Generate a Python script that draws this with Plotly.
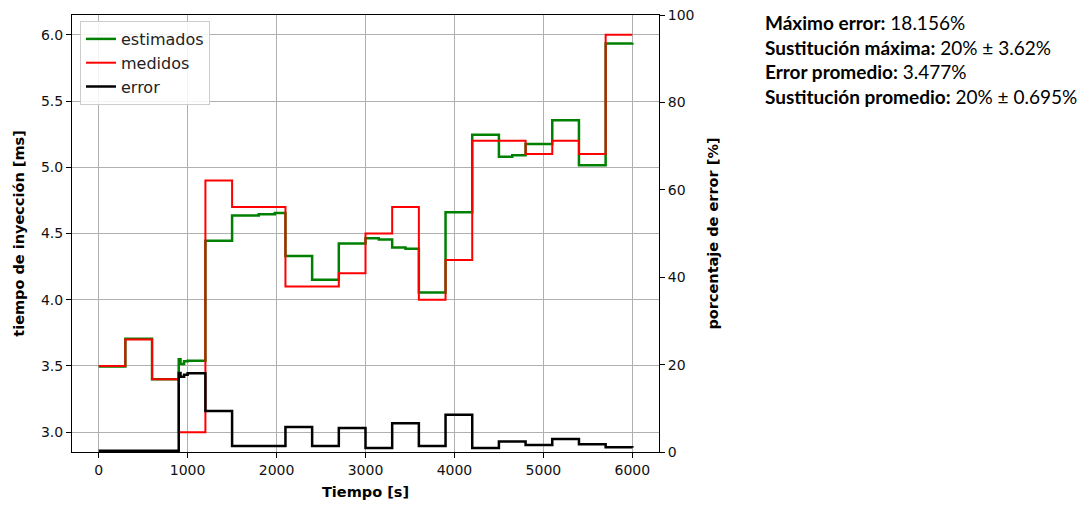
import plotly.graph_objects as go

# ---- data ----
est_t = [0, 300, 600, 900, 920, 960, 1000, 1200, 1500, 1800, 1980, 2100, 2400, 2700,
         3000, 3150, 3300, 3450, 3600, 3900, 4200, 4500, 4650, 4800, 5100, 5400, 5700, 6000]
est_v = [3.495, 3.705, 3.40, 3.55, 3.515, 3.535, 3.54, 4.445, 4.635, 4.645, 4.655, 4.33,
         4.15, 4.425, 4.465, 4.455, 4.395, 4.385, 4.055, 4.66, 5.245, 5.08, 5.09, 5.175,
         5.355, 5.015, 5.935, 5.94]

med_t = [0, 300, 600, 900, 1200, 1500, 2100, 2700, 3000, 3300, 3600, 3900, 4200,
         4800, 5100, 5400, 5700, 6000]
med_v = [3.5, 3.7, 3.4, 3.0, 4.9, 4.7, 4.1, 4.2, 4.5, 4.7, 4.0, 4.3, 5.2,
         5.1, 5.2, 5.1, 6.0, 6.0]

err_t = [0, 900, 920, 960, 1000, 1200, 1500, 2100, 2400, 2700, 3000, 3300, 3600,
         3900, 4200, 4500, 4800, 5100, 5400, 5700, 6000]
err_v = [0.3, 18.1, 17.2, 17.7, 18.0, 9.4, 1.4, 5.7, 1.4, 5.5, 0.9, 6.6, 1.4,
         8.5, 0.9, 2.4, 1.6, 3.0, 1.8, 1.1, 1.0]

x_ticks = [0, 1000, 2000, 3000, 4000, 5000, 6000]
y_ticks = [3.0, 3.5, 4.0, 4.5, 5.0, 5.5, 6.0]
y2_ticks = [0, 20, 40, 60, 80, 100]

stats_labels = ["Máximo error:", "Sustitución máxima:", "Error promedio:", "Sustitución promedio:"]
stats_values = ["18.156%", "20% ± 3.62%", "3.477%", "20% ± 0.695%"]

FONT = "DejaVu Sans"

fig = go.Figure()
fig.add_trace(go.Scatter(x=est_t, y=est_v, mode="lines", line_shape="hv",
                         line=dict(color="#008000", width=2.5), name="estimados"))
fig.add_trace(go.Scatter(x=med_t, y=med_v, mode="lines", line_shape="hv",
                         line=dict(color="#ff0000", width=2), name="medidos"))
fig.add_trace(go.Scatter(x=err_t, y=err_v, mode="lines", line_shape="hv",
                         line=dict(color="#000000", width=2.5), name="error", yaxis="y2"))

L, R, T, B = 72, 431, 15, 53
W, H = 1090, 505
pw = W - L - R
ph = H - T - B

fig.update_layout(
    width=W, height=H,
    margin=dict(l=L, r=R, t=T, b=B, autoexpand=False),
    plot_bgcolor="white", paper_bgcolor="white",
    font=dict(family=FONT, size=14, color="#111111"),
    showlegend=True,
    legend=dict(x=(80 - L) / pw, y=1 - (21 - T) / ph, xanchor="left", yanchor="top",
                bgcolor="rgba(255,255,255,0.85)", bordercolor="#cccccc", borderwidth=1,
                font=dict(family=FONT, size=16, color="#222222"), tracegroupgap=0),
    xaxis=dict(range=[-300, 6300], tickvals=x_ticks, showgrid=True, gridcolor="#b0b0b0",
               gridwidth=1, zeroline=False, showline=True, linecolor="black", linewidth=1,
               mirror=True, ticks="outside", ticklen=5, tickcolor="black", automargin=False,
               title=dict(text="<b>Tiempo [s]</b>", font=dict(family=FONT, size=14.5, color="black"),
                          standoff=10)),
    yaxis=dict(range=[2.85, 6.15], tickvals=y_ticks, tickformat=".1f", showgrid=True,
               gridcolor="#b0b0b0", gridwidth=1, zeroline=False, showline=True,
               linecolor="black", linewidth=1, ticks="outside", ticklen=5, tickcolor="black",
               automargin=False,
               title=dict(text="<b>tiempo de inyección [ms]</b>",
                          font=dict(family=FONT, size=14.5, color="black"), standoff=12)),
    yaxis2=dict(range=[0, 100], tickvals=y2_ticks, overlaying="y", side="right",
                showgrid=False, zeroline=False, showline=True, linecolor="black", linewidth=1,
                ticks="outside", ticklen=5, tickcolor="black", automargin=False,
                title=dict(text="<b>porcentaje de error [%]</b>",
                           font=dict(family=FONT, size=14.5, color="black"), standoff=14)),
)

stats_text = "<br>".join(f"<b>{a}</b> {b}" for a, b in zip(stats_labels, stats_values))
fig.add_annotation(text=stats_text, xref="paper", yref="paper",
                   x=(763 - L) / pw, y=1 - (9 - T) / ph, xanchor="left", yanchor="top",
                   align="left", showarrow=False,
                   font=dict(family="Lato", size=19, color="black"))

fig.write_html("out.html")
